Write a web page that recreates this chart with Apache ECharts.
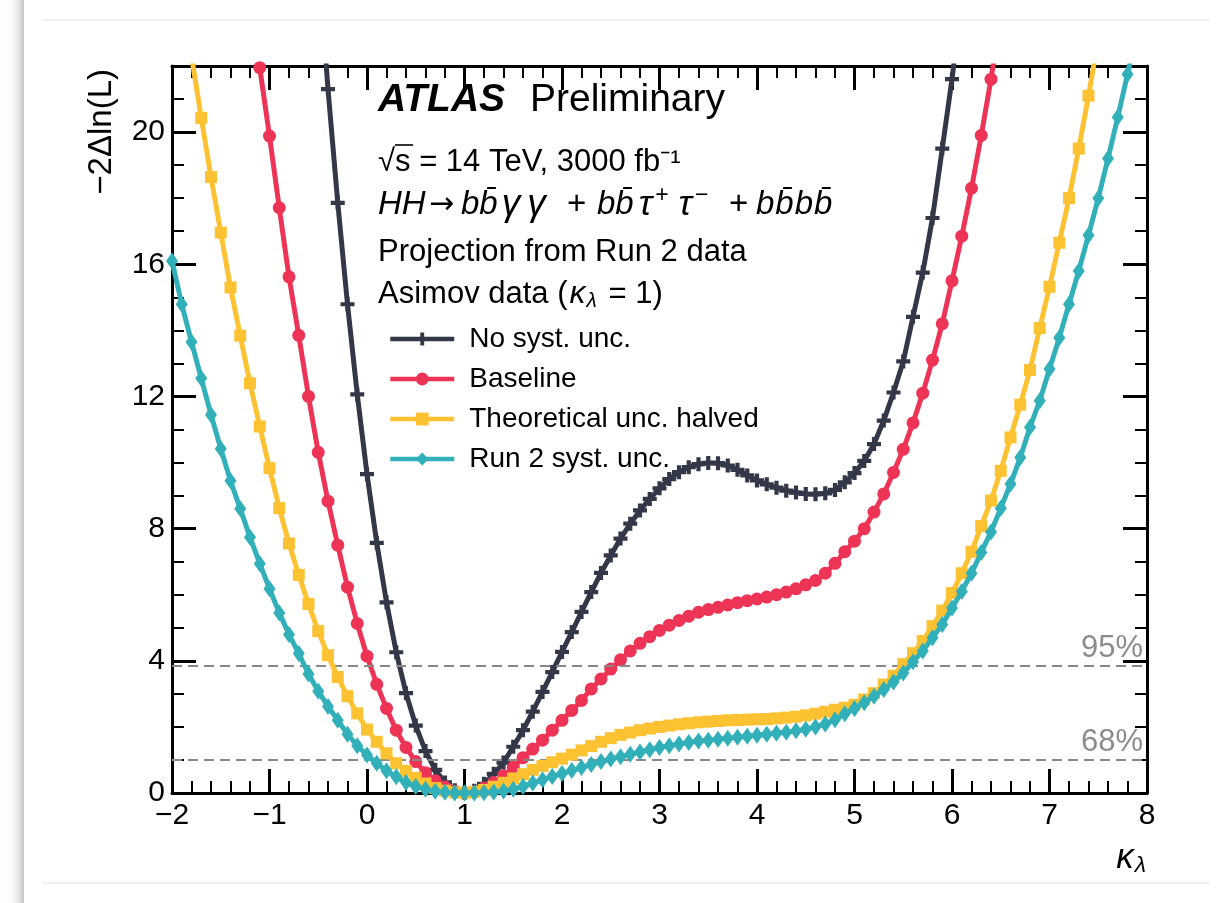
<!DOCTYPE html>
<html>
<head>
<meta charset="utf-8">
<script src="https://cdn.jsdelivr.net/npm/echarts@6/dist/echarts.min.js"></script>
<style>
  html, body { margin: 0; padding: 0; background: #fff; }
  #main { width: 1217px; height: 903px; }
</style>
</head>
<body>
<div id="main"></div>
<script>
// kappa_lambda scan points
const kappa = [
  -2.0, -1.9, -1.8, -1.7, -1.6, -1.5, -1.4, -1.3, -1.2, -1.1,
  -1.0, -0.9, -0.8, -0.7, -0.6, -0.5, -0.4, -0.3, -0.2, -0.1,
  0.0, 0.1, 0.2, 0.3, 0.4, 0.5, 0.6, 0.7, 0.8, 0.9,
  1.0, 1.1, 1.2, 1.3, 1.4, 1.5, 1.6, 1.7, 1.8, 1.9,
  2.0, 2.1, 2.2, 2.3, 2.4, 2.5, 2.6, 2.7, 2.8, 2.9,
  3.0, 3.1, 3.2, 3.3, 3.4, 3.5, 3.6, 3.7, 3.8, 3.9,
  4.0, 4.1, 4.2, 4.3, 4.4, 4.5, 4.6, 4.7, 4.8, 4.9,
  5.0, 5.1, 5.2, 5.3, 5.4, 5.5, 5.6, 5.7, 5.8, 5.9,
  6.0, 6.1, 6.2, 6.3, 6.4, 6.5, 6.6, 6.7, 6.8, 6.9,
  7.0, 7.1, 7.2, 7.3, 7.4, 7.5, 7.6, 7.7, 7.8, 7.9,
  8.0
];

// -2 dln(L) for each scenario (null = outside the frame)
const noSyst = [
  null, null, null, null, null, null, null, null, null, null,
  null, null, null, null, null, 25.2, 21.3, 17.86, 14.79, 12.06,
  9.65, 7.57, 5.77, 4.26, 3.02, 2.04, 1.27, 0.70, 0.32, 0.08,
  0.0, 0.07, 0.28, 0.58, 0.92, 1.40, 1.90, 2.46, 3.06, 3.66,
  4.27, 4.87, 5.48, 6.08, 6.66, 7.19, 7.70, 8.15, 8.55, 8.90,
  9.22, 9.50, 9.71, 9.86, 9.95, 9.99, 9.98, 9.91, 9.78, 9.61,
  9.46, 9.34, 9.24, 9.15, 9.09, 9.05, 9.04, 9.07, 9.17, 9.40,
  9.68, 10.05, 10.56, 11.27, 12.12, 13.06, 14.41, 15.75, 17.4, 19.5,
  21.6, 24.0, null, null, null, null, null, null, null, null,
  null, null, null, null, null, null, null, null, null, null,
  null
];
const baseline = [
  null, null, null, null, null, null, null, null, 24.2, 21.95,
  19.88, 17.71, 15.62, 13.85, 12.0, 10.31, 8.83, 7.5, 6.23, 5.13,
  4.14, 3.29, 2.56, 1.90, 1.38, 0.95, 0.61, 0.37, 0.18, 0.05,
  0.0, 0.04, 0.15, 0.32, 0.52, 0.78, 1.07, 1.33, 1.6, 1.9,
  2.2, 2.5, 2.8, 3.15, 3.45, 3.75, 4.03, 4.3, 4.53, 4.73,
  4.92, 5.08, 5.22, 5.35, 5.47, 5.55, 5.62, 5.69, 5.76, 5.82,
  5.87, 5.93, 6.0, 6.08, 6.18, 6.3, 6.43, 6.65, 6.95, 7.3,
  7.62, 8.0, 8.5, 9.05, 9.7, 10.4, 11.2, 12.1, 13.1, 14.2,
  15.5, 16.85, 18.3, 19.9, 21.6, 23.5, null, null, null, null,
  null, null, null, null, null, null, null, null, null, null,
  null
];
const theoHalved = [
  null, 24.4, 22.3, 20.43, 18.64, 16.96, 15.3, 13.84, 12.4, 11.09,
  9.83, 8.62, 7.55, 6.6, 5.72, 4.9, 4.17, 3.51, 2.93, 2.41,
  1.92, 1.55, 1.2, 0.9, 0.67, 0.46, 0.29, 0.15, 0.07, 0.02,
  0.0, 0.03, 0.09, 0.19, 0.31, 0.44, 0.57, 0.7, 0.82, 0.93,
  1.04, 1.16, 1.29, 1.42, 1.55, 1.66, 1.76, 1.83, 1.9, 1.95,
  2.0, 2.04, 2.08, 2.11, 2.14, 2.16, 2.18, 2.2, 2.21, 2.22,
  2.23, 2.24, 2.26, 2.28, 2.31, 2.35, 2.4, 2.46, 2.52, 2.58,
  2.67, 2.83, 3.02, 3.28, 3.55, 3.9, 4.23, 4.6, 5.05, 5.52,
  6.05, 6.65, 7.3, 8.08, 8.85, 9.75, 10.76, 11.75, 12.8, 14.07,
  15.32, 16.65, 18.0, 19.5, 21.1, 22.8, null, null, null, null,
  null
];
const run2Syst = [
  16.1, 14.79, 13.65, 12.55, 11.45, 10.42, 9.45, 8.6, 7.74, 6.94,
  6.18, 5.45, 4.8, 4.22, 3.6, 3.08, 2.62, 2.2, 1.78, 1.43,
  1.15, 0.9, 0.67, 0.49, 0.32, 0.2, 0.11, 0.05, 0.02, 0.0,
  0.0, 0.0, 0.01, 0.03, 0.06, 0.11, 0.2, 0.3, 0.4, 0.5,
  0.59, 0.68, 0.77, 0.86, 0.95, 1.03, 1.1, 1.17, 1.24, 1.31,
  1.38, 1.43, 1.48, 1.53, 1.57, 1.6, 1.63, 1.66, 1.69, 1.72,
  1.75, 1.78, 1.81, 1.84, 1.88, 1.93, 2.0, 2.09, 2.22, 2.4,
  2.56, 2.73, 2.93, 3.13, 3.36, 3.63, 3.97, 4.3, 4.7, 5.1,
  5.6, 6.1, 6.65, 7.28, 7.9, 8.62, 9.35, 10.15, 11.07, 11.87,
  12.83, 13.78, 14.79, 15.8, 16.88, 18.0, 19.2, 20.45, 21.75, 23.1,
  null
];

const seriesNames = ['No syst. unc.', 'Baseline', 'Theoretical unc. halved', 'Run 2 syst. unc.'];
const seriesData = [noSyst, baseline, theoHalved, run2Syst];
const colors = ['#323848', '#ee3456', '#fdc232', '#31b0b9'];
const symbols = [
  'path://M3.5,0H6.5V3.5H10V6.5H6.5V10H3.5V6.5H0V3.5H3.5Z',
  'circle',
  'rect',
  'diamond'
];
const symbolSizes = [[14, 14], 13, 12, [12, 17]];

const xTicks = [-2, -1, 0, 1, 2, 3, 4, 5, 6, 7, 8];
const yTicks = [0, 4, 8, 12, 16, 20];
const clLines = [{ value: 3.84, label: '95%' }, { value: 1, label: '68%' }];

const FONT = '"Liberation Sans", Arial, Helvetica, sans-serif';

let myChart = echarts.init(document.getElementById('main'));

function pairs(ys){
    let out = [];
    ys.forEach((y, i)=>{
        out.push([kappa[i], y]);
    });
    return out;
}

function minus(v){
    return v < 0 ? '\u2212' + (-v) : String(v);
}

let axisLine = { onZero: false, lineStyle: { color: '#000', width: 3 } };

let series = seriesNames.map((name, i)=>({
    name: name,
    type: 'line',
    data: pairs(seriesData[i]),
    xAxisIndex: 0,
    yAxisIndex: 0,
    symbol: symbols[i],
    symbolSize: symbolSizes[i],
    showSymbol: true,
    clip: true,
    lineStyle: { width: 5, color: colors[i] },
    itemStyle: { color: colors[i] },
    z: 3 + i
}));

series[0].markLine = {
    silent: true,
    symbol: ['none', 'none'],
    lineStyle: { color: '#888', type: [10, 6], width: 2 },
    label: {
        position: 'insideEndTop',
        formatter: '{b}',
        color: '#8c8c8c',
        fontSize: 31,
        fontFamily: FONT,
        distance: [4, 2]
    },
    data: clLines.map(c => ({ yAxis: c.value, name: c.label }))
};

// italic maths font pieces
const it = { fontSize: 33, fontFamily: FONT, fontStyle: 'italic' };
const rm = { fontSize: 33, fontFamily: FONT };

let option = {
    animation: false,
    backgroundColor: '#fff',
    grid: { left: 172, right: 70, top: 66, bottom: 110, containLabel: false },
    legend: {
        orient: 'vertical',
        left: 383,
        top: 320,
        itemWidth: 64,
        itemHeight: 16,
        itemGap: 12,
        selectedMode: false,
        lineStyle: { width: 4.5 },
        textStyle: { fontSize: 28, color: '#000', fontFamily: FONT, lineHeight: 28, padding: [0, 0, 0, 10] },
        data: seriesNames
    },
    xAxis: [
        {
            type: 'value', min: -2, max: 8, interval: 1, position: 'bottom',
            axisLine: axisLine,
            axisTick: { inside: true, length: 24, lineStyle: { color: '#000', width: 3 } },
            minorTick: { show: true, splitNumber: 5, length: 12, lineStyle: { color: '#000', width: 2 } },
            splitLine: { show: false },
            axisLabel: {
                fontSize: 30, color: '#000', fontFamily: FONT, margin: 8,
                customValues: xTicks, formatter: minus
            }
        },
        {
            type: 'value', min: -2, max: 8, interval: 1, position: 'top',
            axisLine: axisLine,
            axisTick: { inside: true, length: 24, lineStyle: { color: '#000', width: 3 } },
            minorTick: { show: true, splitNumber: 5, length: 12, lineStyle: { color: '#000', width: 2 } },
            splitLine: { show: false },
            axisLabel: { show: false }
        }
    ],
    yAxis: [
        {
            type: 'value', min: 0, max: 22, interval: 4, position: 'left',
            axisLine: axisLine,
            axisTick: { inside: true, length: 24, customValues: yTicks, lineStyle: { color: '#000', width: 3 } },
            splitLine: { show: false },
            axisLabel: {
                fontSize: 30, color: '#000', fontFamily: FONT, margin: 7,
                customValues: yTicks
            }
        },
        {
            type: 'value', min: 0, max: 22, interval: 4, position: 'right',
            axisLine: axisLine,
            axisTick: { inside: true, length: 24, customValues: yTicks, lineStyle: { color: '#000', width: 3 } },
            splitLine: { show: false },
            axisLabel: { show: false }
        },
        {
            type: 'value', min: 0, max: 22, interval: 1, position: 'left',
            axisLine: { show: false, onZero: false },
            axisTick: { inside: true, length: 12, lineStyle: { color: '#000', width: 2 } },
            splitLine: { show: false },
            axisLabel: { show: false }
        },
        {
            type: 'value', min: 0, max: 22, interval: 1, position: 'right',
            axisLine: { show: false, onZero: false },
            axisTick: { inside: true, length: 12, lineStyle: { color: '#000', width: 2 } },
            splitLine: { show: false },
            axisLabel: { show: false }
        }
    ],
    graphic: {
        elements: [
            // page frame with the left drop shadow
            {
                type: 'rect', z: -10, silent: true,
                shape: { x: 24, y: -30, width: 1240, height: 970 },
                style: { fill: '#fff', shadowBlur: 14, shadowColor: 'rgba(0,0,0,0.45)' }
            },
            { type: 'line', z: -9, silent: true, shape: { x1: 42, y1: 20, x2: 1210, y2: 20 }, style: { stroke: '#ececec', lineWidth: 1.5 } },
            { type: 'line', z: -9, silent: true, shape: { x1: 42, y1: 883, x2: 1210, y2: 883 }, style: { stroke: '#ececec', lineWidth: 1.5 } },
            // axis titles
            {
                type: 'text', x: 102, y: 69, rotation: Math.PI / 2,
                style: { text: '\u22122\u0394ln(L)', fontSize: 33, fontFamily: FONT, fill: '#000', align: 'right', verticalAlign: 'middle' }
            },
            {
                type: 'text', x: 1146, y: 858,
                style: {
                    text: '{k|\u03ba}{s|\u03bb}', align: 'right', verticalAlign: 'middle', fill: '#000',
                    rich: {
                        k: { fontSize: 35, fontFamily: FONT, fontStyle: 'italic' },
                        s: { fontSize: 23, fontFamily: FONT, fontStyle: 'italic', padding: [16, 0, 0, 1] }
                    }
                }
            },
            // ATLAS label block
            {
                type: 'text', x: 378, y: 100,
                style: { text: 'ATLAS', fontSize: 39, fontFamily: FONT, fontWeight: 'bold', fontStyle: 'italic', fill: '#000', verticalAlign: 'middle' }
            },
            {
                type: 'text', x: 530, y: 100,
                style: { text: 'Preliminary', fontSize: 39, fontFamily: FONT, fill: '#000', verticalAlign: 'middle' }
            },
            {
                type: 'text', x: 378, y: 162,
                style: { text: '\u221As = 14 TeV, 3000 fb\u207B\u00B9', fontSize: 31, fontFamily: FONT, fill: '#000', verticalAlign: 'middle' }
            },
            { type: 'line', shape: { x1: 395, y1: 145, x2: 413, y2: 145 }, style: { stroke: '#000', lineWidth: 1.6 } },
            // HH -> bbyy + bbtautau + bbbb, laid out piece by piece
            { type: 'text', x: 378, y: 205, style: { text: 'HH', ...it, fill: '#000', verticalAlign: 'middle' } },
            { type: 'text', x: 429, y: 205, style: { text: '\u2192', fontSize: 30, fontFamily: '"DejaVu Sans"', fill: '#000', verticalAlign: 'middle' } },
            {
                type: 'text', x: 461, y: 205,
                style: {
                    text: '{i|bb\u0304}{g|\u03B3}{g|\u03B3}', verticalAlign: 'middle', fill: '#000',
                    rich: { i: it, g: { ...it, fontSize: 37, padding: [0, 3, 0, 4] } }
                }
            },
            { type: 'text', x: 567, y: 205, style: { text: '+', ...rm, fill: '#000', verticalAlign: 'middle' } },
            {
                type: 'text', x: 597, y: 205,
                style: {
                    text: '{i|bb\u0304}{t|\u03C4}{u|+}{t|\u03C4}{u|\u2212}', verticalAlign: 'middle', fill: '#000',
                    rich: {
                        i: it,
                        t: { ...it, fontSize: 36, padding: [0, 2, 0, 5] },
                        u: { fontSize: 23, fontFamily: FONT, padding: [0, 5, 18, 1] }
                    }
                }
            },
            { type: 'text', x: 729, y: 205, style: { text: '+', ...rm, fill: '#000', verticalAlign: 'middle' } },
            {
                type: 'text', x: 756, y: 205,
                style: {
                    text: '{i|b}{i|b\u0304}{i|b}{i|b\u0304}', verticalAlign: 'middle', fill: '#000',
                    rich: { i: { ...it, padding: [0, 1, 0, 0] } }
                }
            },
            {
                type: 'text', x: 378, y: 252,
                style: { text: 'Projection from Run 2 data', fontSize: 31, fontFamily: FONT, fill: '#000', verticalAlign: 'middle' }
            },
            {
                type: 'text', x: 378, y: 294,
                style: {
                    text: '{n|Asimov data (}{k|\u03ba}{s|\u03bb}{n| = 1)}', verticalAlign: 'middle', fill: '#000',
                    rich: {
                        n: { fontSize: 31, fontFamily: FONT },
                        k: { fontSize: 32, fontFamily: FONT, fontStyle: 'italic', padding: [0, 1, 0, 2] },
                        s: { fontSize: 21, fontFamily: FONT, fontStyle: 'italic', padding: [14, 3, 0, 0] }
                    }
                }
            }
        ]
    },
    series: series
};
myChart.setOption(option);
</script>
</body>
</html>
